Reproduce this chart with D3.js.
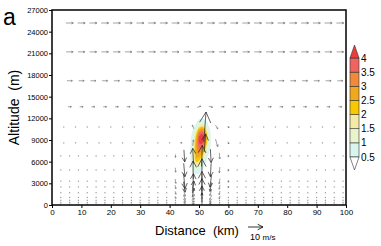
<!DOCTYPE html>
<html>
<head>
<meta charset="utf-8">
<script src="https://cdn.jsdelivr.net/npm/d3@7"></script>
<style>
  body { margin: 0; background: #fff; }
  svg { display: block; font-family: "Liberation Sans", Arial, sans-serif; }
</style>
</head>
<body>
<svg width="381" height="246"></svg>
<script>
// ---- data ----

// vector grid rows (altitude, m) and which column set each row uses
var rowAlt  = [25200, 21200, 17200, 13600, 10800, 8600, 6800, 4850, 3300, 2500, 1700, 1050, 650, 350, 120];
var rowGrid = ['A', 'A', 'A', 'A', 'B', 'B', 'C', 'C', 'C', 'C', 'C', 'C', 'C', 'C', 'C'];
var rowU    = [5, 4.7, 3.7, 2.3, 1, 0.7, 0.5, 0.4, 0.3, 0.3, 0.3, 0.2, 0.2, 0.2, 0.2];   // background u (m/s)

var colsA = [6, 10, 14, 18, 22, 26, 30, 34, 38, 42, 46, 50, 54, 58, 62, 66, 70, 74, 78, 82, 86, 90, 94, 98];
var colsB = [4, 8, 12, 16, 20, 24, 28, 32, 36, 40, 44, 48, 52, 56, 60, 64, 68, 72, 76, 80, 84, 88, 92, 96];
var colsC = [3, 6, 9, 12, 15, 18, 21, 24, 27, 30, 33, 36, 39, 42, 45, 48, 51, 54, 57, 60, 63, 66, 69, 72, 75, 78, 81, 84, 87, 90, 93, 96, 99];

// arrows that differ from the row background: [distance km, altitude m, u, w]
var vecAnom = [
  [50, 13600, 2.5, 0.8], [54, 13600, 2.5, -0.5],
  [48, 10800, -1, 2.5], [52, 10800, 1.5, 20], [56, 10800, 1.5, -2.5], [60, 10800, 0.8, -1],
  [44, 8600, -0.5, 1], [48, 8600, 0.5, 4], [52, 8600, 1, 12], [56, 8600, 1.5, -5], [60, 8600, 0.5, -1.5],
  [42, 6800, 0, -2], [45, 6800, 0.5, -8], [48, 6800, -0.5, 10], [51, 6800, 0.5, 14], [54, 6800, 0.5, -9], [57, 6800, 0.3, -4], [60, 6800, 0, -1.5],
  [42, 4850, 0.3, -3], [45, 4850, 0.8, -9], [48, 4850, 0, 12], [51, 4850, 0, 15], [54, 4850, -0.5, -9], [57, 4850, -0.3, -4], [60, 4850, 0, -1.5],
  [42, 3300, 0.5, -3], [45, 3300, 1, -10], [48, 3300, 0.5, 10], [51, 3300, 0, 13], [54, 3300, -1, -8], [57, 3300, -0.5, -3.5], [60, 3300, 0, -1.5],
  [42, 2500, 0.5, -2.5], [45, 2500, 1, -7], [48, 2500, 1, 8], [51, 2500, 0, 11], [54, 2500, -1, -6], [57, 2500, -0.5, -3], [60, 2500, -0.2, -1.2],
  [42, 1700, 0.5, -2], [45, 1700, 1, -5], [48, 1700, 1.2, 6], [51, 1700, 0, 9], [54, 1700, -1.2, -4], [57, 1700, -0.5, -2.5], [60, 1700, 0, -1],
  [42, 1050, 0.5, -1.5], [45, 1050, 1.2, -3], [48, 1050, 1.5, 4], [51, 1050, 0, 6], [54, 1050, -1.5, -3], [57, 1050, -0.5, -2],
  [45, 650, 1.5, -2], [48, 650, 1.5, 3], [51, 650, 0, 4], [54, 650, -1.5, -2],
  [45, 350, 1.5, -1], [48, 350, 1.5, 2], [51, 350, 0, 2.5], [54, 350, -1.5, -1],
  [48, 120, 1.5, 0.8], [51, 120, 0, 1], [54, 120, -1.5, 0.5]
];

// shaded field: columns (km), rows (m, top to bottom), values
var fieldX = [46, 47, 48, 49, 50, 51, 52, 53, 54, 55];
var fieldY = [12000, 11500, 11000, 10500, 10000, 9500, 9000, 8500, 8000, 7500, 7000, 6500, 6000, 5500, 5000, 4500, 4000];
var fieldV = [
  [0, 0, 0, 0.2, 0.4, 0.45, 0.4, 0.1, 0, 0],
  [0, 0, 0.1, 0.4, 0.8, 1.0, 0.8, 0.4, 0, 0],
  [0, 0, 0.3, 0.7, 1.4, 1.8, 1.4, 0.6, 0.1, 0],
  [0, 0.1, 0.5, 1.2, 2.4, 3.0, 2.3, 1.0, 0.3, 0],
  [0, 0.2, 0.7, 1.7, 3.4, 3.9, 3.1, 1.4, 0.4, 0],
  [0, 0.3, 0.9, 2.2, 4.0, 4.5, 3.6, 1.6, 0.5, 0],
  [0, 0.4, 1.0, 2.5, 4.2, 4.6, 3.6, 1.6, 0.5, 0],
  [0, 0.4, 1.1, 2.7, 4.0, 4.1, 3.1, 1.4, 0.5, 0],
  [0, 0.4, 1.2, 2.8, 3.7, 3.5, 2.5, 1.1, 0.4, 0],
  [0, 0.4, 1.3, 2.8, 3.3, 2.9, 2.0, 0.8, 0.3, 0],
  [0, 0.4, 1.3, 2.7, 2.9, 2.3, 1.5, 0.6, 0.2, 0],
  [0, 0.4, 1.3, 2.5, 2.4, 1.8, 1.0, 0.4, 0.1, 0],
  [0, 0.4, 1.2, 2.1, 1.9, 1.3, 0.7, 0.3, 0, 0],
  [0, 0.3, 1.0, 1.6, 1.4, 0.9, 0.4, 0.2, 0, 0],
  [0, 0.2, 0.7, 1.1, 0.9, 0.6, 0.3, 0.1, 0, 0],
  [0, 0.1, 0.5, 0.7, 0.6, 0.3, 0.1, 0, 0, 0],
  [0, 0, 0.2, 0.3, 0.3, 0.1, 0, 0, 0, 0]
];

var levels = [0.5, 1, 1.5, 2, 2.5, 3, 3.5, 4];
var levelColors = ['#ffffff', '#d8f5ee', '#e8f5cc', '#f4e9a6', '#f8c800', '#f0a81c', '#f08a3a', '#f06460', '#ec3c3c'];
var levelLabels = ['0.5', '1', '1.5', '2', '2.5', '3', '3.5', '4'];

var xTicks = [0, 10, 20, 30, 40, 50, 60, 70, 80, 90, 100];
var yTicks = [0, 3000, 6000, 9000, 12000, 15000, 18000, 21000, 24000, 27000];
var refSpeed = 10;

// ---- setup ----
var svg = d3.select('svg');
var plotL = 52, plotR = 346, plotT = 10, plotB = 205;

var xScale = d3.scaleLinear().domain([0, 100]).range([plotL, plotR]);
var yScale = d3.scaleLinear().domain([0, 27000]).range([plotB, plotT]);
var vScale = d3.scaleLinear().domain([0, 10]).range([0, 15]);   // m/s -> px

// ---- shaded contours ----
var nx = fieldX.length, ny = fieldY.length;
var flat = [];
fieldV.forEach(function (row) { row.forEach(function (v) { flat.push(v); }); });

var dxKm = fieldX[1] - fieldX[0];
var dyM = fieldY[1] - fieldY[0];
var proj = d3.geoTransform({
  point: function (gx, gy) {
    this.stream.point(xScale(fieldX[0] + (gx - 0.5) * dxKm), yScale(fieldY[0] + (gy - 0.5) * dyM));
  }
});
var contourPath = d3.geoPath(proj);
var contours = d3.contours().size([nx, ny]).thresholds(levels)(flat);

svg.append('defs').append('filter').attr('id', 'soft')
  .append('feGaussianBlur').attr('stdDeviation', 0.6);

svg.append('g').attr('filter', 'url(#soft)')
  .selectAll('path')
  .data(contours)
  .enter().append('path')
  .attr('d', contourPath)
  .attr('fill', function (d, i) { return levelColors[i + 1]; });

// ---- vectors ----
var colSets = { A: colsA, B: colsB, C: colsC };
var vectors = [];
rowAlt.forEach(function (alt, r) {
  colSets[rowGrid[r]].forEach(function (xk) {
    var hit = vecAnom.find(function (a) { return a[0] === xk && a[1] === alt; });
    if (hit) vectors.push({ x: xk, y: alt, u: hit[2], w: hit[3] });
    else vectors.push({ x: xk, y: alt, u: rowU[r], w: 0 });
  });
});

function arrowPath(d) {
  var cx = xScale(d.x), cy = yScale(d.y);
  var dx = vScale(d.u), dy = -vScale(d.w);
  var len = Math.sqrt(dx * dx + dy * dy);
  var x0 = cx - dx / 2, y0 = cy - dy / 2, x1 = cx + dx / 2, y1 = cy + dy / 2;
  var ang = Math.atan2(dy, dx);
  var h = len > 10 ? len * 0.4 : Math.max(1.5, len * 0.3);
  var a = len > 10 ? Math.PI / 6.5 : Math.PI / 7;
  return 'M' + x0 + ',' + y0 + 'L' + x1 + ',' + y1 +
    'M' + (x1 - h * Math.cos(ang - a)) + ',' + (y1 - h * Math.sin(ang - a)) +
    'L' + x1 + ',' + y1 +
    'L' + (x1 - h * Math.cos(ang + a)) + ',' + (y1 - h * Math.sin(ang + a));
}

var vg = svg.append('g');
vectors.forEach(function (d) {
  var len = vScale(Math.sqrt(d.u * d.u + d.w * d.w));
  if (len < 1.6) {
    vg.append('rect')
      .attr('x', xScale(d.x) - 0.6).attr('y', yScale(d.y) - 0.6)
      .attr('width', 1.2).attr('height', 1.2)
      .attr('fill', '#999');
  } else {
    vg.append('path')
      .attr('d', arrowPath(d))
      .attr('fill', 'none')
      .attr('stroke', len > 8 ? '#222' : '#666')
      .attr('stroke-width', len > 8 ? 0.7 : 0.6);
  }
});

// ---- axes ----
var xAxis = d3.axisBottom(xScale).tickValues(xTicks).tickSize(3).tickPadding(1);
var yAxis = d3.axisLeft(yScale).tickValues(yTicks).tickSize(3).tickPadding(1).tickFormat(d3.format('d'));

svg.append('g')
  .attr('transform', 'translate(0,' + plotB + ')')
  .call(xAxis)
  .call(function (g) { g.select('.domain').remove(); })
  .selectAll('text').attr('font-size', 8).attr('fill', '#000').attr('font-family', '"Liberation Sans", Arial, sans-serif');

svg.append('g')
  .attr('transform', 'translate(' + plotL + ',0)')
  .call(yAxis)
  .call(function (g) { g.select('.domain').remove(); })
  .selectAll('text').attr('font-size', 7.5).attr('fill', '#000').attr('font-family', '"Liberation Sans", Arial, sans-serif');

svg.selectAll('.tick line').attr('stroke', '#000').attr('stroke-width', 1);

svg.append('rect')
  .attr('x', plotL).attr('y', plotT)
  .attr('width', plotR - plotL).attr('height', plotB - plotT)
  .attr('fill', 'none').attr('stroke', '#000').attr('stroke-width', 1.5);

// axis titles
svg.append('text')
  .attr('transform', 'translate(19,' + ((plotT + plotB) / 2) + ') rotate(-90)')
  .attr('text-anchor', 'middle')
  .attr('font-size', 14)
  .attr('xml:space', 'preserve')
  .text('Altitude  (m)');

svg.append('text')
  .attr('x', 197).attr('y', 235)
  .attr('text-anchor', 'middle')
  .attr('font-size', 13)
  .attr('xml:space', 'preserve')
  .text('Distance  (km)');

svg.append('text')
  .attr('x', 3).attr('y', 25)
  .attr('font-size', 23)
  .text('a');

// reference vector
var refY = 227, refX0 = 248;
svg.append('path')
  .attr('d', arrowPath({ x: xScale.invert(refX0 + vScale(refSpeed) / 2), y: yScale.invert(refY), u: refSpeed, w: 0 }))
  .attr('fill', 'none').attr('stroke', '#000').attr('stroke-width', 0.8);
var refText = svg.append('text').attr('x', 250).attr('y', 240).attr('font-size', 9);
refText.append('tspan').text('10 ');
refText.append('tspan').attr('font-size', 8).text('m/s');

// ---- colour bar ----
var cbX = 350, cbW = 9;
var cbScale = d3.scaleLinear().domain([0.5, 4]).range([157, 58]);
var cb = svg.append('g');
for (var i = 0; i < levels.length - 1; i++) {
  cb.append('rect')
    .attr('x', cbX).attr('y', cbScale(levels[i + 1]))
    .attr('width', cbW).attr('height', cbScale(levels[i]) - cbScale(levels[i + 1]))
    .attr('fill', levelColors[i + 1])
    .attr('stroke', '#333').attr('stroke-width', 0.6);
}
cb.append('path')
  .attr('d', 'M' + cbX + ',' + cbScale(4) + 'L' + (cbX + cbW / 2) + ',' + (cbScale(4) - 13) + 'L' + (cbX + cbW) + ',' + cbScale(4) + 'Z')
  .attr('fill', levelColors[8]).attr('stroke', '#333').attr('stroke-width', 0.6);
cb.append('path')
  .attr('d', 'M' + cbX + ',' + cbScale(0.5) + 'L' + (cbX + cbW / 2) + ',' + (cbScale(0.5) + 13) + 'L' + (cbX + cbW) + ',' + cbScale(0.5) + 'Z')
  .attr('fill', levelColors[0]).attr('stroke', '#333').attr('stroke-width', 0.6);

cb.selectAll('text.cbl')
  .data(levels)
  .enter().append('text')
  .attr('class', 'cbl')
  .attr('x', cbX + cbW + 2)
  .attr('y', function (d) { return cbScale(d) + 3.5; })
  .attr('font-size', 10)
  .text(function (d, i) { return levelLabels[i]; });
</script>
</body>
</html>
